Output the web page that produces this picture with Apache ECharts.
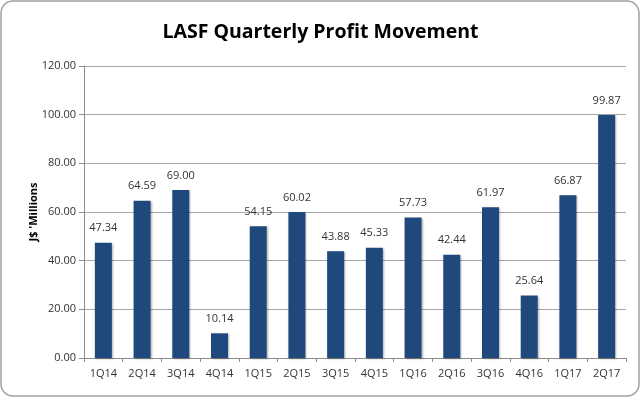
<!DOCTYPE html>
<html><head><meta charset="utf-8">
<script src="https://cdn.jsdelivr.net/npm/echarts@6/dist/echarts.min.js"></script>
<style>html,body{margin:0;padding:0;background:#fff}#c{width:641px;height:398px}</style>
</head><body><div id="c"></div>
<script>
const categories = ['1Q14','2Q14','3Q14','4Q14','1Q15','2Q15','3Q15','4Q15','1Q16','2Q16','3Q16','4Q16','1Q17','2Q17'];
const profits = [47.34,64.59,69.00,10.14,54.15,60.02,43.88,45.33,57.73,42.44,61.97,25.64,66.87,99.87];
const chart = echarts.init(document.getElementById('c'));
const font = 'Open Sans';
chart.setOption({
  animation:false,
  title:{text:'LASF Quarterly Profit Movement',left:'center',top:17,
    textStyle:{fontFamily:font,fontWeight:'bold',fontSize:19.5,color:'#000'}},
  graphic:[{type:'rect',shape:{x:1,y:1,width:638,height:395,r:12},
    style:{fill:'none',stroke:'#a0a0a0',lineWidth:1.5},z:-1}],
  grid:{left:84,right:15,top:66,bottom:40},
  xAxis:{type:'category',data:categories,
    axisLine:{lineStyle:{color:'#8c8c8c'}},
    axisTick:{show:true,alignWithLabel:false,length:4,lineStyle:{color:'#8c8c8c'}},
    axisLabel:{fontFamily:font,fontSize:11,color:'#333',margin:10}},
  yAxis:{type:'value',min:0,max:120,interval:20,
    name:"J$ 'Millions",nameLocation:'middle',nameGap:45,nameMoveOverlap:false,
    nameTextStyle:{fontFamily:font,fontWeight:'bold',fontSize:11,color:'#000'},
    axisLine:{show:true,lineStyle:{color:'#8c8c8c'}},
    axisTick:{show:true,length:5,lineStyle:{color:'#8c8c8c'}},
    splitLine:{lineStyle:{color:'#a6a6a6'}},
    axisLabel:{fontFamily:font,fontSize:11,color:'#333',margin:8,
      formatter:v=>v.toFixed(2)}},
  series:[{type:'bar',data:profits,barWidth:17,
    itemStyle:{color:'#1f497d',shadowColor:'rgba(0,0,0,0.3)',shadowOffsetX:1,shadowOffsetY:1,shadowBlur:2},
    label:{show:true,position:'top',distance:9,fontFamily:font,fontSize:11,color:'#333',
      formatter:p=>p.value.toFixed(2)}}]
});
</script></body></html>
